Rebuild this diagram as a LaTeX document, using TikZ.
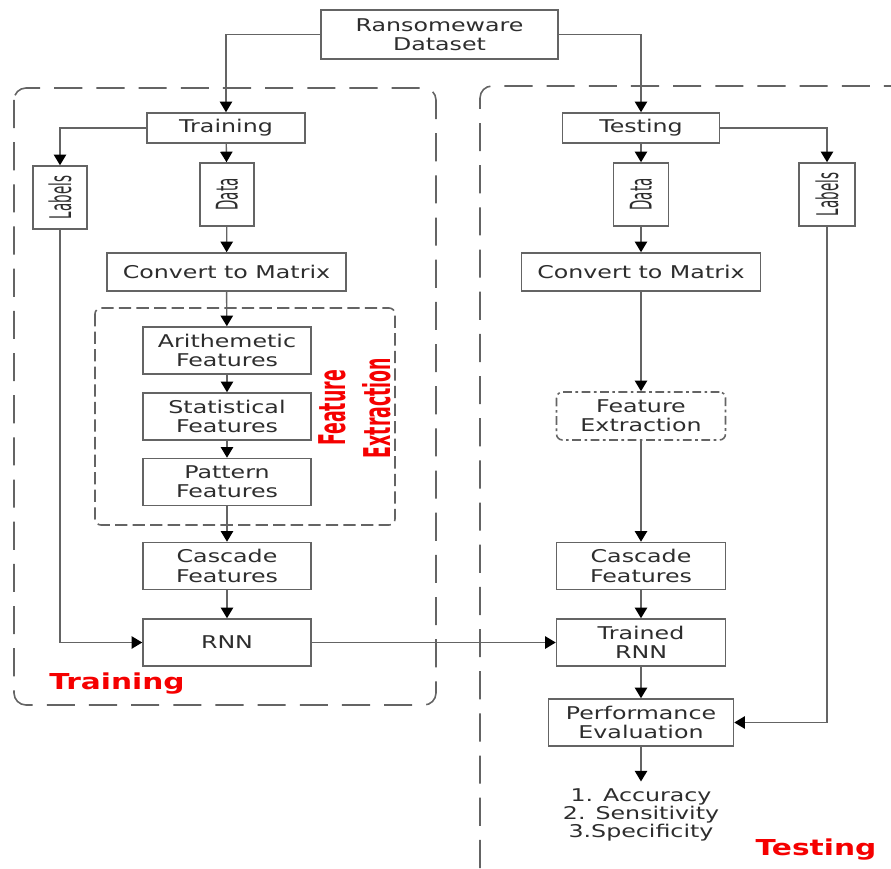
\documentclass[tikz,border=0pt]{standalone}
\usepackage{fontspec}
\usepackage{graphicx}
\setmainfont{DejaVu Sans}[FakeStretch=1.35]
\newfontfamily\vertfont{DejaVu Sans}[FakeStretch=0.45]
\newfontfamily\redvertfont{DejaVu Sans}[FakeStretch=0.47]
\usetikzlibrary{positioning,arrows.meta}
\definecolor{flowgray}{RGB}{100,100,100}
\definecolor{flowtext}{RGB}{45,45,45}
\definecolor{flowred}{RGB}{245,0,0}

\begin{document}
\begin{tikzpicture}[x=0.02cm, y=-0.02cm,
  box/.style={draw=flowgray, line width=0.9pt, rectangle, align=center, text=flowtext, inner sep=0pt, font=\fontsize{10}{11}\selectfont},
  flow/.style={-{Triangle[length=6pt,width=7pt,color=black]}, draw=flowgray, line width=0.8pt},
  redlabel/.style={text=flowred, font=\bfseries\fontsize{12.5}{14}\selectfont}]
\useasboundingbox (0,0) rectangle (891,868);

% Frames
\draw[flowgray, line width=0.9pt, dash pattern=on 16pt off 8pt, rounded corners=0.24cm] (14,88) rectangle (436,705);
\draw[flowgray, line width=0.9pt, dash pattern=on 16pt off 8pt, rounded corners=0.24cm] (480,868) -- (480,86) -- (891,86);
\draw[flowgray, line width=0.9pt, dash pattern=on 7pt off 3pt, rounded corners=0.12cm] (95,308) rectangle (395,525);

% Dataset
\node[box, minimum width=4.74cm, minimum height=0.98cm] (dataset) at (439.5,34.5) {Ransomeware\\Dataset};

% Training side
\node[box, minimum width=3.16cm, minimum height=0.6cm] (training) at (226,128) {Training};
\node[box, minimum width=1.08cm, minimum height=1.26cm] (labelsL) at (60,197.5) {\rotatebox{90}{\vertfont\fontsize{17}{17}\selectfont Labels}};
\node[box, minimum width=1.08cm, minimum height=1.26cm] (dataL) at (227,194.5) {\rotatebox{90}{\vertfont\fontsize{17}{17}\selectfont Data}};
\node[box, minimum width=4.78cm, minimum height=0.76cm] (convL) at (226.5,272) {Convert to Matrix};
\node[box, minimum width=3.36cm, minimum height=0.94cm] (arith) at (227,350.5) {Arithemetic\\Features};
\node[box, minimum width=3.36cm, minimum height=0.94cm] (stat) at (227,416.5) {Statistical\\Features};
\node[box, minimum width=3.36cm, minimum height=0.94cm] (patt) at (227,482) {Pattern\\Features};
\node[box, minimum width=3.36cm, minimum height=0.94cm] (cascL) at (227,566) {Cascade\\Features};
\node[box, minimum width=3.36cm, minimum height=0.94cm] (rnn) at (227,642.5) {RNN};
\node[text=flowred, align=center, rotate=90, font=\redvertfont\bfseries\fontsize{21}{25.5}\selectfont] (fexTxt) at (355,408) {Feature\\Extraction};
\node[redlabel] (trainTxt) at (117,684) {Training};

% Testing side
\node[box, minimum width=3.14cm, minimum height=0.6cm] (testing) at (641,128) {Testing};
\node[box, minimum width=1.1cm, minimum height=1.26cm] (dataR) at (641,194.5) {\rotatebox{90}{\vertfont\fontsize{17}{17}\selectfont Data}};
\node[box, minimum width=1.12cm, minimum height=1.26cm] (labelsR) at (827,194.5) {\rotatebox{90}{\vertfont\fontsize{17}{17}\selectfont Labels}};
\node[box, minimum width=4.78cm, minimum height=0.76cm] (convR) at (641,272) {Convert to Matrix};
\node[box, minimum width=3.38cm, minimum height=0.96cm, rounded corners=0.12cm, dash pattern=on 5pt off 2pt on 1.5pt off 2pt] (fexR) at (641,416) {Feature\\Extraction};
\node[box, minimum width=3.38cm, minimum height=0.94cm] (cascR) at (641,566) {Cascade\\Features};
\node[box, minimum width=3.38cm, minimum height=0.94cm] (trained) at (641,642.5) {Trained\\RNN};
\node[box, minimum width=3.7cm, minimum height=0.94cm] (perf) at (641,722.5) {Performance\\Evaluation};
\node[align=center, text=flowtext, inner xsep=0pt, inner ysep=4pt, font=\fontsize{10}{10.2}\selectfont] (metrics) at (641,815) {1. Accuracy\\2. Sensitivity\\3.Specificity};
\node[redlabel] (testTxt) at (816,850) {Testing};

% Connectors
\draw[flow] (dataset.west) -| (training.north);
\draw[flow] (dataset.east) -| (testing.north);
\draw[flow] (training.west) -| (labelsL.north);
\draw[flow] (training) -- (dataL);
\draw[flow] (dataL) -- (convL);
\draw[flow] (convL) -- (arith);
\draw[flow] (arith) -- (stat);
\draw[flow] (stat) -- (patt);
\draw[flow] (patt) -- (cascL);
\draw[flow] (cascL) -- (rnn);
\draw[flow] (labelsL.south) |- (rnn.west);
\draw[flow] (rnn) -- (trained);
\draw[flow] (testing.east) -| (labelsR.north);
\draw[flow] (testing) -- (dataR);
\draw[flow] (dataR) -- (convR);
\draw[flow] (convR) -- (fexR);
\draw[flow] (fexR) -- (cascR);
\draw[flow] (cascR) -- (trained);
\draw[flow] (trained) -- (perf);
\draw[flow] (labelsR.south) |- (perf.east);
\draw[flow] (perf) -- (metrics);
\end{tikzpicture}
\end{document}
